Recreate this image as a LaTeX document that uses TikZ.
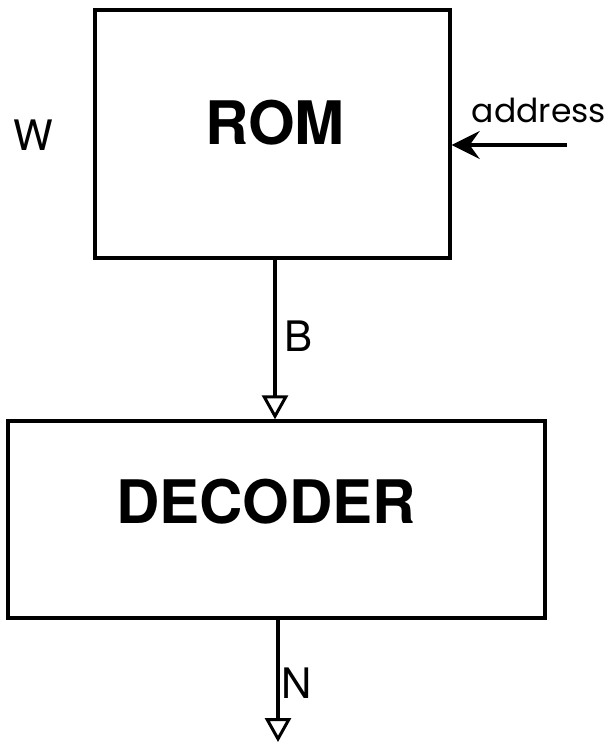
\documentclass[tikz,border=0pt]{standalone}
\usepackage{fontspec}
\setmainfont{TeX Gyre Heros}
\newfontfamily\roundfont{Poppins}
\usetikzlibrary{arrows.meta}
\tikzset{
  blockbox/.style={draw, line width=3.4pt, inner sep=0pt},
  flow/.style={line width=3.2pt, -{Triangle[open, length=24pt, width=26pt, line width=3pt]}},
  inarrow/.style={line width=3.2pt, -{Stealth[length=28pt, width=28pt, inset=10pt]}},
  bigtxt/.style={font=\fontsize{60}{66}\selectfont\bfseries},
  lbltxt/.style={font=\fontsize{42}{48}\selectfont}
}
\begin{document}
\begin{tikzpicture}[x=1pt,y=-1pt]
\useasboundingbox (0,0) rectangle (613,747);
\node[blockbox, minimum width=355pt, minimum height=248pt] (rom) at (272.5,134) {};
\node[bigtxt] (romtxt) at (275,123) {ROM};
\node[blockbox, minimum width=537pt, minimum height=197pt] (dec) at (276.5,519.5) {};
\node[bigtxt] (dectxt) at (266,502) {DECODER};
\node[lbltxt] (w) at (33,135) {W};
\node[lbltxt] (b) at (299,336) {B};
\node[lbltxt] (n) at (297,683) {N};
\node[font=\roundfont\fontsize{33}{38}\selectfont] (addr) at (539,110) {address};
\coordinate (addrstart) at (567,145);
\coordinate (nend) at (278,742);
\draw[inarrow] (addrstart) -- (rom.east |- addrstart);
\draw[flow] (rom.south -| 275,0) -- (dec.north -| 275,0);
\draw[flow] (dec.south -| 278,0) -- (nend);
\end{tikzpicture}
\end{document}
